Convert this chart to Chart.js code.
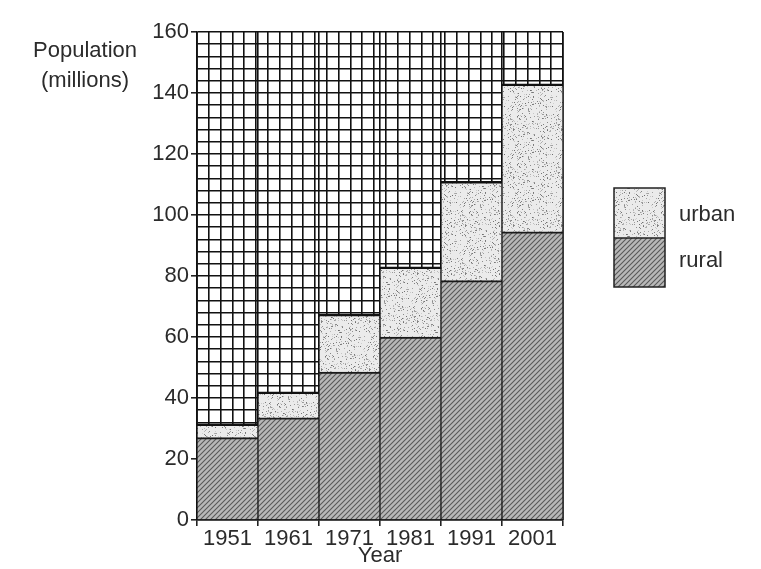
<!DOCTYPE html>
<html lang="en">
<head>
    <meta charset="UTF-8">
    <title>Population (millions)</title>
    <script src="https://cdn.jsdelivr.net/npm/chart.js"></script>
    <style>
        body {
            margin: 0;
            background: #fff;
        }
        .chart-container {
            width: 761px;
            height: 569px;
            position: relative;
        }
    </style>
</head>
<body>
    <div class="chart-container">
        <canvas id="popChart"></canvas>
    </div>

    <script>
        // Data
        const years = ['1951', '1961', '1971', '1981', '1991', '2001'];
        const rural = [27, 33.5, 48.5, 60, 78.5, 94.5];
        const urban = [4.5, 8.5, 19, 23, 32.5, 48.5];
        const yTicks = [0, 20, 40, 60, 80, 100, 120, 140, 160];

        const FONT = '"Liberation Sans", Arial, sans-serif';
        const TEXT = '#2b2b2b';

        // Diagonal hatch for rural
        function makeHatch() {
            const c = document.createElement('canvas');
            c.width = 5; c.height = 5;
            const g = c.getContext('2d');
            g.fillStyle = '#b8b8b8';
            g.fillRect(0, 0, 5, 5);
            g.strokeStyle = '#595959';
            g.lineWidth = 1.1;
            g.beginPath();
            g.moveTo(-1, 6); g.lineTo(6, -1);
            g.moveTo(-1, 1); g.lineTo(1, -1);
            g.moveTo(4, 6); g.lineTo(6, 4);
            g.stroke();
            return g.createPattern(c, 'repeat');
        }

        // Stipple texture for urban (fixed seed, so it is the same every run)
        function makeStipple() {
            const c = document.createElement('canvas');
            c.width = 48; c.height = 48;
            const g = c.getContext('2d');
            g.fillStyle = '#ebebeb';
            g.fillRect(0, 0, 48, 48);
            let s = 12345;
            const rnd = () => { s = (s * 1103515245 + 12345) % 2147483648; return s / 2147483648; };
            for (let i = 0; i < 340; i++) {
                const x = Math.floor(rnd() * 48), y = Math.floor(rnd() * 48);
                const shade = 110 + Math.floor(rnd() * 100);
                g.fillStyle = `rgb(${shade},${shade},${shade})`;
                g.fillRect(x, y, 1, 1);
            }
            return g.createPattern(c, 'repeat');
        }

        const hatch = makeHatch();
        const stipple = makeStipple();

        // Axis caption and legend drawn by hand
        const decorations = {
            id: 'decorations',
            afterDraw(chart) {
                const g = chart.ctx;
                g.save();
                g.fillStyle = TEXT;
                g.font = `22px ${FONT}`;
                g.textAlign = 'center';
                g.textBaseline = 'middle';
                g.fillText('Population', 85, 51);
                g.fillText('(millions)', 85, 81);

                // legend boxes
                g.fillStyle = stipple;
                g.fillRect(614, 188, 51, 50);
                g.fillStyle = hatch;
                g.fillRect(614, 238, 51, 49);
                g.strokeStyle = '#222';
                g.lineWidth = 1.5;
                g.strokeRect(614, 188, 51, 99);
                g.beginPath();
                g.moveTo(614, 238); g.lineTo(665, 238);
                g.stroke();

                g.fillStyle = TEXT;
                g.textAlign = 'left';
                g.fillText('urban', 679, 215);
                g.fillText('rural', 679, 261);
                g.restore();
            }
        };

        new Chart(document.getElementById('popChart').getContext('2d'), {
            type: 'bar',
            data: {
                labels: years,
                datasets: [{
                    label: 'rural',
                    data: rural,
                    backgroundColor: hatch,
                    borderColor: '#1a1a1a',
                    borderWidth: { top: 2, left: 1, right: 1, bottom: 0 },
                    barPercentage: 1,
                    categoryPercentage: 1
                }, {
                    label: 'urban',
                    data: urban,
                    backgroundColor: stipple,
                    borderColor: '#111',
                    borderWidth: { top: 2.5, left: 1, right: 1, bottom: 0 },
                    barPercentage: 1,
                    categoryPercentage: 1
                }]
            },
            options: {
                responsive: true,
                maintainAspectRatio: false,
                animation: false,
                layout: {
                    padding: { top: 32, right: 198, left: 0, bottom: 0 }
                },
                plugins: {
                    legend: { display: false },
                    tooltip: { enabled: false }
                },
                scales: {
                    x: {
                        stacked: true,
                        grid: {
                            offset: true,
                            color: '#111',
                            lineWidth: 1.6,
                            tickLength: 6,
                            tickColor: '#222'
                        },
                        border: { color: '#111', width: 1.6 },
                        ticks: {
                            color: TEXT,
                            font: { family: FONT, size: 22 },
                            padding: 0
                        },
                        title: {
                            display: true,
                            text: 'Year',
                            color: TEXT,
                            font: { family: FONT, size: 22 },
                            padding: { top: -6, bottom: 0 }
                        },
                        afterFit(scale) { scale.height = 49; }
                    },
                    xgrid: {
                        type: 'linear',
                        position: 'top',
                        min: 0,
                        max: 30,
                        ticks: { display: false, stepSize: 1 },
                        grid: { color: '#111', lineWidth: 1.6, drawTicks: false },
                        border: { display: false },
                        afterFit(scale) { scale.height = 0; }
                    },
                    y: {
                        stacked: true,
                        min: 0,
                        max: 160,
                        ticks: {
                            stepSize: 4,
                            autoSkip: false,
                            color: TEXT,
                            font: { family: FONT, size: 22 },
                            padding: 2,
                            callback: v => yTicks.includes(v) ? v : ''
                        },
                        grid: {
                            color: '#111',
                            lineWidth: 1.6,
                            tickLength: 6,
                            tickColor: ctx => (ctx.tick && yTicks.includes(ctx.tick.value)) ? '#222' : 'rgba(0,0,0,0)'
                        },
                        border: { color: '#111', width: 1.6 },
                        afterFit(scale) { scale.width = 197; }
                    }
                }
            },
            plugins: [decorations]
        });
    </script>
</body>
</html>
